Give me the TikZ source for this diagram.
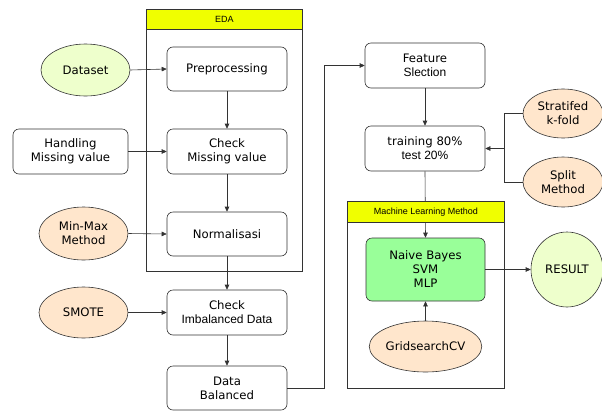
\documentclass[tikz,border=0pt]{standalone}
\usepackage{fontspec}
\setmainfont{DejaVu Sans}
\newfontfamily\helv{Liberation Sans}
\usetikzlibrary{shapes.geometric,arrows.meta}
\definecolor{lime}{HTML}{EEFFCC}
\definecolor{peach}{HTML}{FFE6CC}
\definecolor{mint}{HTML}{99FF99}
\definecolor{hdr}{HTML}{F0FF00}
\definecolor{ln}{HTML}{333333}
\begin{document}
\begin{tikzpicture}[x=1pt,y=-1pt,
  base/.style={draw=ln, line width=0.6pt, align=center, inner sep=0pt, font=\fontsize{11.7}{14}\selectfont},
  box/.style={base, rounded corners=6pt, minimum width=120pt, minimum height=44pt},
  ell/.style={base, ellipse, minimum width=89pt, minimum height=52pt},
  frame/.style={draw=ln, line width=0.6pt, anchor=north west, inner sep=0pt},
  hd/.style={frame, fill=hdr, font=\helv\fontsize{9}{10}\selectfont},
  arr/.style={-{Triangle[length=5pt,width=4.5pt]}, draw=ln, line width=0.6pt},
  ln/.style={draw=ln, line width=0.6pt}
]
\useasboundingbox (0,0) rectangle (602,410);
% containers
\node[frame, minimum width=156pt, minimum height=262pt] (eda) at (146,9) {};
\node[frame, minimum width=157pt, minimum height=187pt] (ml) at (347,201) {};
% left column
\node[ell, fill=lime] (dataset) at (85.5,70) {Dataset};
\node[box, minimum width=115pt, minimum height=45pt] (handling) at (70.5,151.5) {Handling\\Missing value};
\node[ell, fill=peach, minimum height=53pt] (minmax) at (83.5,233.5) {Min-Max\\Method};
\node[ell, fill=peach, minimum height=51pt] (smote) at (83.5,312.5) {SMOTE};
% middle column
\node[box] (prep) at (227,69) {Preprocessing};
\node[box, minimum height=45pt] (cmv) at (227,151.5) {Check\\Missing value};
\node[box] (norm) at (227,234) {Normalisasi};
\node[box, minimum height=45pt] (cib) at (227,312.5) {Check\\{\helv\fontsize{12}{14}\selectfont Imbalanced Data}};
\node[box] (dbal) at (227,388) {Data\\Balanced};
% right side
\node[box, minimum height=45pt] (feat) at (425,65.5) {Feature\\{\helv\fontsize{12}{14}\selectfont Slection}};
\node[box, minimum height=45pt] (train) at (425,148.5) {training 80\%\\{\helv\fontsize{12}{14}\selectfont test 20\%}};
\node[ell, fill=peach, minimum width=80pt, minimum height=49pt] (strat) at (563,113.5) {Stratifed\\k-fold};
\node[ell, fill=peach, minimum width=80pt, minimum height=50pt] (split) at (563,182) {Split\\Method};
\node[box, fill=mint, minimum width=119pt, minimum height=63pt] (nb) at (425.5,269.5) {Naive Bayes\\SVM\\MLP};
\node[ell, fill=peach, minimum height=51pt] (grid) at (425.5,346.5) {GridsearchCV};
\node[base, ellipse, fill=lime, minimum width=72pt, minimum height=75pt] (result) at (567,269.5) {RESULT};
% connectors
\draw[arr] (dataset.east) -- (prep.west);
\draw[arr] (handling.east) -- (cmv.west);
\draw[arr] (minmax.east) -- (norm.west);
\draw[arr] (smote.east) -- (cib.west);
\draw[arr] (prep.south) -- (cmv.north);
\draw[arr] (cmv.south) -- (norm.north);
\draw[arr] (norm.south) -- (cib.north);
\draw[arr] (cib.south) -- (dbal.north);
\coordinate (bend) at (324.5,388);
\draw[arr] (dbal.east) -- (bend) |- (feat.west);
\draw[arr] (feat.south) -- (train.north);
\coordinate (j) at (504,148.5);
\draw[ln] (strat.west) -| (j);
\draw[ln] (split.west) -| (j);
\draw[arr] (j) -- (train.east);
\draw[arr] (train.south) -- (nb.north);
\draw[arr] (grid.north) -- (nb.south);
\draw[arr] (nb.east) -- (result.west);
% container headers (on top of connectors)
\node[hd, minimum width=156pt, minimum height=19.5pt] (edah) at (146,9) {EDA};
\node[hd, minimum width=157pt, minimum height=21pt] (mlh) at (347,201) {Machine Learning Method};
\end{tikzpicture}
\end{document}
